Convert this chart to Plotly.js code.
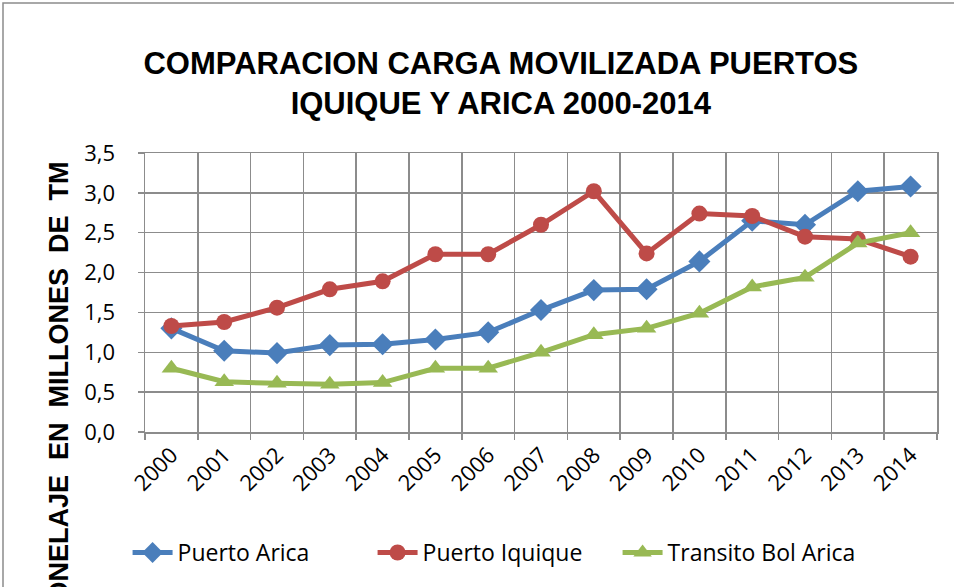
<!DOCTYPE html>
<html>
<head>
<meta charset="utf-8">
<script src="https://cdn.plot.ly/plotly-3.0.1.min.js"></script>
<style>html,body{margin:0;padding:0;background:#fff;}#chart{width:954px;height:587px;}</style>
</head>
<body>
<div id="chart"></div>
<script>
const years = ['2000','2001','2002','2003','2004','2005','2006','2007','2008','2009','2010','2011','2012','2013','2014'];
const puertoArica = [1.30, 1.02, 0.99, 1.09, 1.10, 1.16, 1.25, 1.53, 1.78, 1.79, 2.14, 2.65, 2.60, 3.02, 3.08];
const puertoIquique = [1.33, 1.38, 1.56, 1.79, 1.89, 2.23, 2.23, 2.60, 3.02, 2.24, 2.74, 2.71, 2.45, 2.42, 2.20];
const transitoBolArica = [0.80, 0.63, 0.61, 0.60, 0.62, 0.80, 0.80, 1.00, 1.22, 1.30, 1.49, 1.82, 1.94, 2.37, 2.50];
const yTicks = [0, 0.5, 1, 1.5, 2, 2.5, 3, 3.5];

const baseFont = 'Open Sans, Liberation Sans, sans-serif';
const boldFont = 'Liberation Sans, Arial, sans-serif';
function series(name, y, color, symbol, size) {
  return {
    type: 'scatter', mode: 'lines+markers', name: name, x: years, y: y,
    line: {color: color, width: 5},
    marker: {color: color, symbol: symbol, size: size}
  };
}
const data = [
  series('Puerto Arica', puertoArica, '#4A7EBB', 'diamond', 17),
  series('Puerto Iquique', puertoIquique, '#BE4B48', 'circle', 16),
  series('Transito Bol Arica', transitoBolArica, '#98B954', 'triangle-up', 17)
];
const grid = '#8C8C8C';
const layout = {
  width: 954, height: 587,
  margin: {l: 145, r: 17, t: 153, b: 155},
  paper_bgcolor: '#fff', plot_bgcolor: '#fff',
  separators: ',.',
  showlegend: true,
  title: {
    text: 'COMPARACION CARGA MOVILIZADA PUERTOS<br>IQUIQUE Y ARICA 2000-2014',
    font: {family: boldFont, size: 31, weight: 'bold', color: '#000'},
    x: 0.525, xref: 'container', xanchor: 'center',
    y: 1 - 74/587, yref: 'container', yanchor: 'top'
  },
  xaxis: {
    type: 'category', tickson: 'boundaries', range: [-0.5, 14.5], autorange: false,
    showgrid: true, gridcolor: grid, gridwidth: 1.5,
    showline: true, linecolor: grid, linewidth: 1.5, mirror: true,
    ticks: 'outside', ticklen: 6, tickcolor: grid, tickwidth: 1.5,
    tickangle: -45,
    tickfont: {family: baseFont, size: 22, color: '#000'}
  },
  yaxis: {
    range: [0, 3.5], autorange: false, tickvals: yTicks, tickformat: '.1f',
    showgrid: true, gridcolor: grid, gridwidth: 1.5,
    showline: true, linecolor: grid, linewidth: 1.5, mirror: true,
    ticks: 'outside', ticklen: 6, tickcolor: grid, tickwidth: 1.5,
    ticklabelstandoff: 18,
    zeroline: false,
    tickfont: {family: baseFont, size: 22, color: '#000'}
  },
  legend: {
    orientation: 'h', x: -0.022, xanchor: 'left', y: -0.355, yanchor: 'top',
    font: {family: baseFont, size: 23, color: '#000'},
    entrywidth: 190, itemwidth: 40
  },
  annotations: [{
    text: 'TONELAJE\u00A0\u00A0EN\u00A0\u00A0MILLONES\u00A0\u00A0DE\u00A0\u00A0TM',
    textangle: -90, showarrow: false,
    xref: 'paper', yref: 'paper',
    x: (58 - 145) / 792, xanchor: 'center',
    y: (432 - 160) / 279, yanchor: 'top',
    font: {family: boldFont, size: 27, weight: 'bold', color: '#000'}
  }],
  shapes: [{
    type: 'rect', xref: 'paper', yref: 'paper',
    x0: (3 - 145) / 792, x1: 1.2, y0: -1, y1: (432 - 3) / 279,
    line: {color: '#8C8C8C', width: 1.5}, fillcolor: 'rgba(0,0,0,0)', layer: 'below'
  }]
};
Plotly.newPlot('chart', data, layout, {displayModeBar: false, staticPlot: true});
</script>
</body>
</html>
